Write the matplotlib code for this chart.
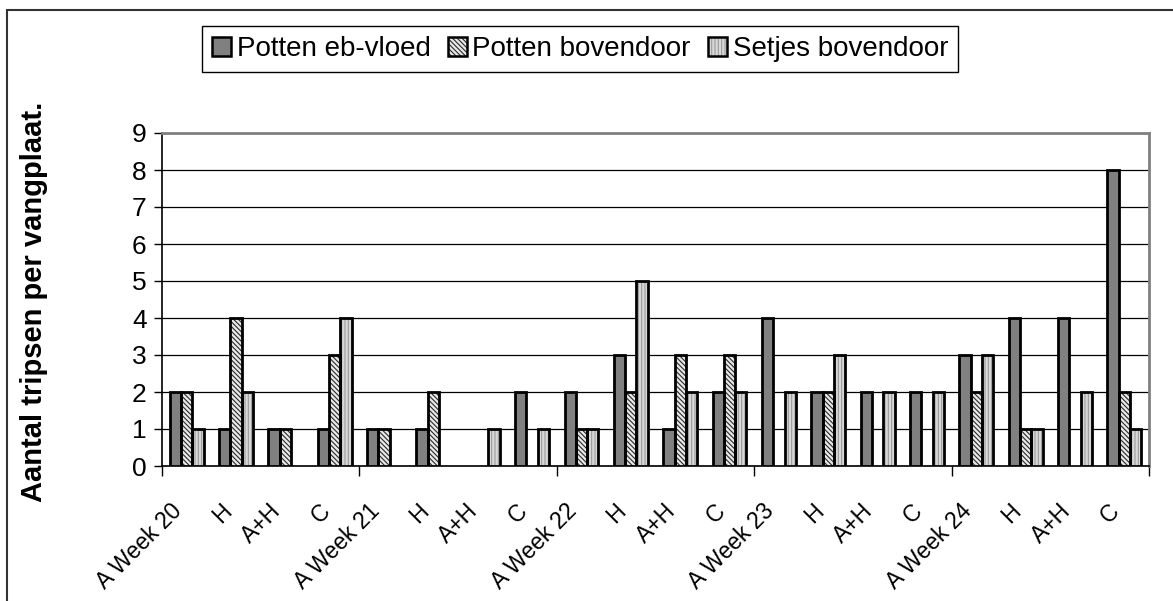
import numpy as np
import matplotlib.pyplot as plt
from matplotlib.patches import Patch, Rectangle

# Categories (4 treatments per week)
categories = ["A Week 20", "H", "A+H", "C",
              "A Week 21", "H", "A+H", "C",
              "A Week 22", "H", "A+H", "C",
              "A Week 23", "H", "A+H", "C",
              "A Week 24", "H", "A+H", "C"]

# Number of thrips per sticky plate
potten_eb_vloed = [2, 1, 1, 1, 1, 1, 0, 2, 2, 3, 1, 2, 4, 2, 2, 2, 3, 4, 4, 8]
potten_bovendoor = [2, 4, 1, 3, 1, 2, 0, 0, 1, 2, 3, 3, 0, 2, 0, 0, 2, 1, 0, 2]
setjes_bovendoor = [1, 2, 0, 4, 0, 0, 1, 1, 1, 5, 2, 2, 2, 3, 2, 2, 3, 1, 2, 1]

series_names = ["Potten eb-vloed", "Potten bovendoor", "Setjes bovendoor"]
y_ticks = list(range(0, 10))

plt.rcParams['font.family'] = ['Liberation Sans', 'DejaVu Sans']
plt.rcParams['hatch.linewidth'] = 0.8

# fill colour, hatch pattern, hatch colour
styles = [("#808080", None, "#808080"),
          ("#e8e8e8", "\\\\\\\\\\\\\\", "#2a2a2a"),
          ("#d8d8d8", "|||||", "#9a9a9a")]


def draw_bars(ax, x, values, offset, width, style):
    face, hatch, hcol = style
    # hatch colour follows edgecolor, so draw fill and outline separately
    ax.bar(x + offset, values, width, color=face, hatch=hatch,
           edgecolor=hcol, linewidth=0, zorder=3)
    edges = ["black" if v > 0 else "none" for v in values]
    ax.bar(x + offset, values, width, facecolor="none",
           edgecolor=edges, linewidth=2.0, zorder=4)


fig = plt.figure(figsize=(11.73, 6.01), dpi=100)
ax = fig.add_axes([162 / 1173, 1 - 466 / 601, (1149 - 162) / 1173, (466 - 133) / 601])

x = np.arange(len(categories)) + 0.5
width = 0.229
all_series = [potten_eb_vloed, potten_bovendoor, setjes_bovendoor]
for i, vals in enumerate(all_series):
    draw_bars(ax, x, vals, (i - 1) * width, width, styles[i])

ax.set_xlim(0, len(categories))
ax.set_ylim(0, 9)
ax.set_yticks(y_ticks)
ax.tick_params(axis='y', labelsize=19, length=6, width=1, pad=5)
ax.yaxis.grid(True, color="black", linewidth=0.9, zorder=0)
ax.set_axisbelow(True)

# major ticks at week boundaries, labels at category centres
ax.set_xticks(np.arange(0, len(categories) + 1, 4))
ax.set_xticklabels([])
ax.set_xticks(x, minor=True)
ax.set_xticklabels(categories, minor=True, rotation=45, ha="right", fontsize=16.5)
ax.tick_params(axis='x', which='major', length=7, width=1)
ax.tick_params(axis='x', which='minor', length=0, pad=24)

for side in ["top", "right"]:
    ax.spines[side].set_color("#808080")
    ax.spines[side].set_linewidth(2)
for side in ["left", "bottom"]:
    ax.spines[side].set_linewidth(1.2)

fig.text(34 / 1173, 1 - 302 / 601, "Aantal tripsen per vangplaat.", rotation=90,
         fontsize=21, fontweight="bold", ha="center", va="center")

# legend with pattern fill plus black outline
handles = []
for face, hatch, hcol in styles:
    fill = Patch(facecolor=face, hatch=hatch, edgecolor=hcol, linewidth=0)
    edge = Patch(facecolor="none", edgecolor="black", linewidth=1.8)
    handles.append((fill, edge))
leg = fig.legend(handles, series_names, loc="center", bbox_to_anchor=(580 / 1173, 1 - 49 / 601),
                 ncol=3, fontsize=20, handlelength=0.7, handleheight=0.7,
                 handletextpad=0.2, columnspacing=0.6, borderpad=0.35,
                 fancybox=False, framealpha=1, edgecolor="black")
leg.get_frame().set_linewidth(1.0)

# outer chart border (runs off the right and bottom of the image)
fig.patches.append(Rectangle((7 / 1173, -0.2), 1.2, 1.2 - 10 / 601, transform=fig.transFigure,
                             fill=False, edgecolor="#333333", linewidth=1.5))

fig.savefig("out.png", dpi=100)
